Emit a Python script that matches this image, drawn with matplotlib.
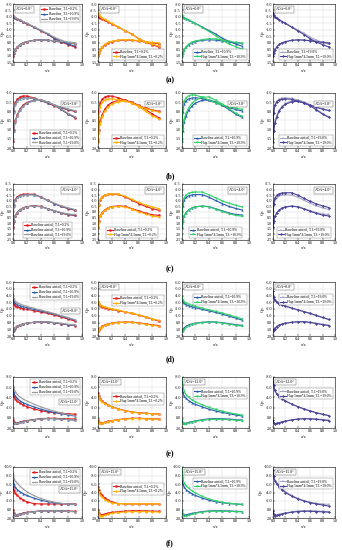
import matplotlib
matplotlib.use('Agg')
import matplotlib.pyplot as plt

plt.rcParams['font.family'] = ['Liberation Serif', 'DejaVu Serif']

# chordwise stations (x/c)
X = [0.0, 0.01, 0.03, 0.06, 0.1, 0.15, 0.2, 0.3, 0.4, 0.5, 0.6, 0.7, 0.8, 0.9]

ROW_TAGS = ['(a)', '(b)', '(c)', '(d)', '(e)', '(f)']
AOA_LABELS = ['AOA=0.0°', 'AOA=3.8°', 'AOA=4.0°', 'AOA=8.0°', 'AOA=12.0°', 'AOA=15.0°']
TI_LABELS = ['0.2%', '10.9%', '19.0%']
Y_LIMS = [(1.5, -3.0), (2.0, -1.0), (2.5, -2.5), (2.0, -6.0), (2.0, -8.0), (2.0, -10.0)]
Y_TICKS = [
    [-3.0, -2.5, -2.0, -1.5, -1.0, -0.5, 0.0, 0.5, 1.0, 1.5],
    [-1.0, -0.5, 0.0, 0.5, 1.0, 1.5, 2.0],
    [-2.5, -2.0, -1.5, -1.0, -0.5, 0.0, 0.5, 1.0, 1.5, 2.0, 2.5],
    [-6.0, -5.0, -4.0, -3.0, -2.0, -1.0, 0.0, 1.0, 2.0],
    [-8.0, -6.0, -4.0, -2.0, 0.0, 2.0],
    [-10.0, -8.0, -6.0, -4.0, -2.0, 0.0, 2.0],
]

# ---- row (a) ----
a_b02_up = [-2.05, -1.98, -1.92, -1.84, -1.74, -1.60, -1.47, -1.20, -0.93, -0.66, -0.30, -0.05, 0.15, 0.35]
a_b02_lo = [1.0, 0.8, 0.55, 0.35, 0.15, 0.0, -0.08, -0.17, -0.21, -0.19, -0.12, -0.05, 0.02, 0.08]
a_b109_up = [-2.1, -2.0, -1.93, -1.85, -1.75, -1.62, -1.49, -1.22, -0.95, -0.68, -0.35, -0.1, 0.1, 0.28]
a_b109_lo = [1.0, 0.82, 0.55, 0.35, 0.15, 0.0, -0.08, -0.18, -0.22, -0.2, -0.13, -0.06, 0.0, 0.05]
a_b190_up = [-2.15, -2.05, -1.95, -1.87, -1.77, -1.64, -1.51, -1.25, -0.98, -0.72, -0.42, -0.2, -0.02, 0.12]
a_b190_lo = [1.0, 0.82, 0.55, 0.35, 0.16, 0.01, -0.07, -0.17, -0.21, -0.2, -0.15, -0.1, -0.05, 0.0]
a_f02_up = [-2.3, -2.2, -2.05, -1.92, -1.8, -1.65, -1.5, -1.22, -0.93, -0.64, -0.32, -0.08, 0.1, 0.28]
a_f02_lo = [1.0, 0.8, 0.55, 0.33, 0.13, -0.02, -0.1, -0.2, -0.24, -0.22, -0.15, -0.08, -0.02, 0.02]
a_f109_up = [-2.15, -2.05, -1.95, -1.86, -1.76, -1.62, -1.48, -1.18, -0.88, -0.55, -0.2, 0.1, 0.32, 0.5]
a_f109_lo = [1.0, 0.8, 0.55, 0.32, 0.12, -0.04, -0.13, -0.24, -0.3, -0.3, -0.2, -0.1, -0.02, 0.05]
a_f190_up = [-2.3, -2.15, -2.02, -1.9, -1.78, -1.63, -1.49, -1.2, -0.92, -0.63, -0.3, -0.05, 0.15, 0.33]
a_f190_lo = [1.0, 0.8, 0.55, 0.33, 0.14, 0.0, -0.08, -0.18, -0.22, -0.2, -0.14, -0.08, -0.02, 0.03]

# ---- row (b) ----
b_b02_up = [1.0, 0.0, -0.45, -0.65, -0.78, -0.84, -0.83, -0.74, -0.6, -0.45, -0.3, -0.18, -0.08, 0.0]
b_b02_lo = [1.6, 1.0, 0.55, 0.2, -0.12, -0.35, -0.48, -0.6, -0.6, -0.5, -0.32, -0.1, 0.15, 0.35]
b_b109_up = [1.0, 0.05, -0.38, -0.58, -0.68, -0.73, -0.74, -0.7, -0.6, -0.47, -0.33, -0.2, -0.1, -0.02]
b_b109_lo = [1.6, 1.05, 0.6, 0.25, -0.08, -0.3, -0.45, -0.6, -0.62, -0.52, -0.33, -0.1, 0.15, 0.33]
b_b190_up = [1.0, 0.05, -0.35, -0.55, -0.66, -0.72, -0.74, -0.71, -0.62, -0.5, -0.36, -0.23, -0.12, -0.04]
b_b190_lo = [1.6, 1.05, 0.6, 0.25, -0.06, -0.28, -0.43, -0.58, -0.61, -0.52, -0.34, -0.12, 0.12, 0.3]
b_f02_up = [1.2, 0.3, -0.25, -0.5, -0.62, -0.68, -0.68, -0.64, -0.57, -0.45, -0.3, -0.15, -0.05, 0.05]
b_f02_lo = [1.7, 1.2, 0.7, 0.3, -0.02, -0.25, -0.38, -0.52, -0.55, -0.45, -0.25, 0.0, 0.25, 0.42]
b_f109_up = [1.0, -0.1, -0.55, -0.75, -0.85, -0.9, -0.88, -0.78, -0.62, -0.47, -0.35, -0.25, -0.17, -0.1]
b_f109_lo = [1.6, 0.95, 0.45, 0.1, -0.2, -0.45, -0.6, -0.78, -0.78, -0.62, -0.4, -0.15, 0.1, 0.28]
b_f190_up = [1.1, 0.1, -0.32, -0.52, -0.62, -0.67, -0.68, -0.65, -0.56, -0.45, -0.33, -0.22, -0.12, -0.05]
b_f190_lo = [1.65, 1.1, 0.65, 0.3, -0.02, -0.25, -0.38, -0.52, -0.55, -0.46, -0.3, -0.08, 0.15, 0.33]

# ---- row (c) ----
c_b02_up = [1.0, -0.6, -1.1, -1.35, -1.5, -1.58, -1.6, -1.58, -1.35, -1.05, -0.75, -0.5, -0.3, -0.15]
c_b02_lo = [1.3, 0.8, 0.35, 0.05, -0.2, -0.38, -0.48, -0.55, -0.5, -0.3, -0.1, 0.1, 0.25, 0.3]
c_b109_up = [1.0, -0.55, -1.05, -1.3, -1.45, -1.53, -1.56, -1.55, -1.33, -1.03, -0.75, -0.5, -0.32, -0.18]
c_b109_lo = [1.3, 0.8, 0.35, 0.05, -0.2, -0.37, -0.47, -0.53, -0.48, -0.3, -0.1, 0.08, 0.22, 0.27]
c_b190_up = [1.0, -0.5, -1.0, -1.25, -1.42, -1.5, -1.53, -1.52, -1.32, -1.05, -0.78, -0.55, -0.37, -0.22]
c_b190_lo = [1.3, 0.8, 0.38, 0.08, -0.18, -0.35, -0.45, -0.52, -0.47, -0.3, -0.12, 0.05, 0.18, 0.22]
c_f02_up = [1.0, -0.6, -1.12, -1.37, -1.52, -1.6, -1.62, -1.6, -1.4, -1.12, -0.85, -0.62, -0.45, -0.3]
c_f02_lo = [1.35, 0.85, 0.4, 0.08, -0.17, -0.35, -0.45, -0.5, -0.45, -0.25, -0.02, 0.18, 0.35, 0.45]
c_f109_up = [1.0, -0.7, -1.25, -1.52, -1.68, -1.75, -1.78, -1.78, -1.55, -1.27, -1.0, -0.78, -0.6, -0.45]
c_f109_lo = [1.3, 0.8, 0.38, 0.06, -0.18, -0.36, -0.46, -0.52, -0.46, -0.26, -0.05, 0.14, 0.3, 0.38]
c_f190_up = [1.0, -0.7, -1.22, -1.48, -1.63, -1.7, -1.72, -1.72, -1.5, -1.22, -0.95, -0.72, -0.55, -0.4]
c_f190_lo = [1.3, 0.8, 0.38, 0.08, -0.18, -0.35, -0.45, -0.52, -0.46, -0.28, -0.06, 0.12, 0.28, 0.35]

# ---- row (d) ----
d_b02_up = [-3.0, -2.7, -2.5, -2.35, -2.2, -2.05, -1.95, -1.75, -1.55, -1.35, -1.1, -0.8, -0.5, -0.2]
d_b02_lo = [1.2, 1.1, 0.8, 0.55, 0.35, 0.2, 0.1, -0.02, -0.08, -0.05, 0.05, 0.2, 0.35, 0.45]
d_b109_up = [-3.5, -3.1, -2.85, -2.65, -2.48, -2.32, -2.2, -1.95, -1.72, -1.5, -1.25, -0.95, -0.65, -0.35]
d_b109_lo = [1.2, 1.1, 0.8, 0.55, 0.35, 0.2, 0.1, -0.03, -0.1, -0.08, 0.02, 0.17, 0.32, 0.42]
d_b190_up = [-4.2, -3.6, -3.2, -2.95, -2.75, -2.55, -2.4, -2.12, -1.85, -1.6, -1.33, -1.02, -0.72, -0.42]
d_b190_lo = [1.2, 1.1, 0.8, 0.55, 0.35, 0.2, 0.1, -0.03, -0.1, -0.1, 0.0, 0.13, 0.28, 0.38]
d_f02_up = [-3.2, -2.9, -2.65, -2.48, -2.32, -2.17, -2.05, -1.82, -1.6, -1.38, -1.12, -0.85, -0.55, -0.3]
d_f02_lo = [1.3, 1.15, 0.85, 0.6, 0.4, 0.25, 0.14, 0.0, -0.05, -0.02, 0.1, 0.25, 0.42, 0.55]
d_f109_up = [-3.8, -3.4, -3.1, -2.88, -2.7, -2.52, -2.38, -2.12, -1.88, -1.65, -1.4, -1.12, -0.83, -0.55]
d_f109_lo = [1.3, 1.3, 1.0, 0.7, 0.45, 0.28, 0.15, 0.0, -0.08, -0.05, 0.08, 0.25, 0.42, 0.55]
d_f190_up = [-4.6, -3.8, -3.3, -3.0, -2.78, -2.58, -2.42, -2.15, -1.88, -1.62, -1.35, -1.05, -0.75, -0.45]
d_f190_lo = [1.2, 1.15, 0.9, 0.65, 0.42, 0.25, 0.12, -0.02, -0.1, -0.12, -0.02, 0.15, 0.32, 0.45]

# ---- row (e) ----
e_b02_up = [-4.8, -4.2, -3.7, -3.25, -2.85, -2.5, -2.2, -1.75, -1.4, -1.15, -1.0, -0.9, -0.8, -0.7]
e_b02_lo = [0.5, 0.9, 1.05, 1.0, 0.85, 0.7, 0.55, 0.35, 0.2, 0.1, 0.1, 0.15, 0.2, 0.25]
e_b109_up = [-5.8, -5.0, -4.3, -3.8, -3.35, -2.95, -2.65, -2.15, -1.7, -1.35, -1.05, -0.8, -0.55, -0.35]
e_b109_lo = [0.6, 1.0, 1.1, 1.05, 0.9, 0.75, 0.6, 0.38, 0.22, 0.15, 0.18, 0.25, 0.35, 0.45]
e_b190_up = [-7.5, -6.0, -5.2, -4.6, -4.1, -3.65, -3.3, -2.7, -2.15, -1.7, -1.3, -0.95, -0.65, -0.4]
e_b190_lo = [0.6, 1.0, 1.15, 1.1, 0.95, 0.8, 0.65, 0.42, 0.25, 0.15, 0.17, 0.25, 0.35, 0.45]
e_f02_up = [-4.4, -4.0, -3.55, -3.15, -2.8, -2.45, -2.15, -1.7, -1.35, -1.1, -0.95, -0.85, -0.78, -0.72]
e_f02_lo = [0.6, 1.0, 1.1, 1.05, 0.9, 0.75, 0.6, 0.4, 0.25, 0.15, 0.15, 0.2, 0.25, 0.3]
e_f109_up = [-8.0, -6.5, -5.3, -4.55, -4.0, -3.5, -3.15, -2.55, -2.05, -1.65, -1.3, -1.0, -0.75, -0.5]
e_f109_lo = [0.4, 1.0, 1.2, 1.15, 1.0, 0.85, 0.7, 0.5, 0.35, 0.28, 0.3, 0.38, 0.45, 0.55]
e_f190_up = [-8.2, -6.5, -5.4, -4.7, -4.15, -3.7, -3.3, -2.7, -2.2, -1.75, -1.35, -1.0, -0.7, -0.45]
e_f190_lo = [0.5, 1.0, 1.15, 1.1, 0.95, 0.8, 0.65, 0.42, 0.25, 0.18, 0.2, 0.3, 0.42, 0.55]

# ---- row (f) ----
f_b02_up = [-5.4, -4.6, -3.9, -3.3, -2.75, -2.2, -1.8, -1.4, -1.3, -1.3, -1.3, -1.3, -1.3, -1.3]
f_b02_lo = [0.2, 0.9, 1.2, 1.2, 1.05, 0.85, 0.7, 0.5, 0.38, 0.3, 0.3, 0.33, 0.38, 0.42]
f_b109_up = [-6.9, -6.0, -5.3, -4.7, -4.2, -3.7, -3.3, -2.7, -2.2, -1.85, -1.6, -1.4, -1.3, -1.2]
f_b109_lo = [0.3, 1.0, 1.3, 1.25, 1.1, 0.9, 0.75, 0.5, 0.35, 0.28, 0.3, 0.35, 0.42, 0.5]
f_b190_up = [-8.5, -7.5, -6.8, -6.2, -5.5, -4.8, -4.2, -3.3, -2.6, -2.1, -1.7, -1.45, -1.3, -1.2]
f_b190_lo = [0.3, 1.0, 1.3, 1.28, 1.15, 0.95, 0.8, 0.55, 0.38, 0.3, 0.3, 0.35, 0.45, 0.55]
f_f02_up = [-5.0, -4.2, -3.5, -2.9, -2.35, -1.9, -1.6, -1.4, -1.35, -1.35, -1.35, -1.35, -1.35, -1.35]
f_f02_lo = [0.3, 1.1, 1.5, 1.5, 1.3, 1.1, 0.92, 0.7, 0.58, 0.5, 0.5, 0.5, 0.55, 0.6]
f_f109_up = [-10.0, -7.5, -6.3, -5.6, -5.0, -4.4, -3.9, -3.1, -2.5, -2.05, -1.7, -1.45, -1.3, -1.2]
f_f109_lo = [0.3, 1.1, 1.6, 1.55, 1.35, 1.1, 0.9, 0.62, 0.45, 0.38, 0.4, 0.45, 0.5, 0.55]
f_f190_up = [-9.4, -7.8, -6.8, -6.0, -5.3, -4.6, -4.0, -3.15, -2.5, -2.0, -1.6, -1.3, -1.05, -0.8]
f_f190_lo = [0.3, 1.1, 1.45, 1.4, 1.25, 1.05, 0.9, 0.65, 0.48, 0.4, 0.42, 0.48, 0.55, 0.62]

ROWS = [
    ((a_b02_up, a_b02_lo), (a_b109_up, a_b109_lo), (a_b190_up, a_b190_lo),
     (a_f02_up, a_f02_lo), (a_f109_up, a_f109_lo), (a_f190_up, a_f190_lo)),
    ((b_b02_up, b_b02_lo), (b_b109_up, b_b109_lo), (b_b190_up, b_b190_lo),
     (b_f02_up, b_f02_lo), (b_f109_up, b_f109_lo), (b_f190_up, b_f190_lo)),
    ((c_b02_up, c_b02_lo), (c_b109_up, c_b109_lo), (c_b190_up, c_b190_lo),
     (c_f02_up, c_f02_lo), (c_f109_up, c_f109_lo), (c_f190_up, c_f190_lo)),
    ((d_b02_up, d_b02_lo), (d_b109_up, d_b109_lo), (d_b190_up, d_b190_lo),
     (d_f02_up, d_f02_lo), (d_f109_up, d_f109_lo), (d_f190_up, d_f190_lo)),
    ((e_b02_up, e_b02_lo), (e_b109_up, e_b109_lo), (e_b190_up, e_b190_lo),
     (e_f02_up, e_f02_lo), (e_f109_up, e_f109_lo), (e_f190_up, e_f190_lo)),
    ((f_b02_up, f_b02_lo), (f_b109_up, f_b109_lo), (f_b190_up, f_b190_lo),
     (f_f02_up, f_f02_lo), (f_f109_up, f_f109_lo), (f_f190_up, f_f190_lo)),
]

# styles: baseline 0.2 / 10.9 / 19.0 ; flap 0.2 / 10.9 / 19.0
BASE_STYLE = [('#e31a1c', 's'), ('#2a5caa', '^'), ('#9b9b9b', 'x')]
FLAP_STYLE = [('#ffb300', 'o'), ('#2fd06a', 'v'), ('#4b4494', 'D')]
BASE_STYLE_C4 = ('#a7a7c4', '+')

FIG_W, FIG_H = 342, 550
ROW_PX = [(4, 62), (93, 148), (184, 240), (282, 336), (377, 428), (467, 518)]
COL_PX = [(13, 82), (98, 166), (182, 249), (273, 335)]
TAG_Y = [80, 176, 269, 359, 454, 543]

# AOA box / legend placement per row, per column
AOA_POS = [
    [(0.05, 0.94, 'left')] * 4,
    [(0.95, 0.84, 'right')] * 4,
    [(0.95, 0.92, 'right')] * 4,
    [(0.95, 0.5, 'right')] + [(0.05, 0.94, 'left')] * 3,
    [(0.95, 0.55, 'right')] + [(0.05, 0.94, 'left')] * 3,
    [(0.95, 0.6, 'right')] + [(0.05, 0.94, 'left')] * 3,
]
LEG_LOC = [
    [('upper right', (1, 1)), ('lower right', (1, 0)), ('lower right', (1, 0)), ('lower right', (1, 0))],
    [('lower right', (1, 0))] * 4,
    [('lower center', (0.5, 0))] * 4,
    [('upper right', (1, 1)), ('upper right', (1, 0.8)), ('upper right', (1, 0.82)), ('upper right', (1, 0.82))],
    [('upper right', (1, 1)), ('upper right', (1, 0.72)), ('upper right', (1, 0.82)), ('upper right', (1, 0.82))],
    [('upper right', (1, 1)), ('upper right', (1, 0.72)), ('upper right', (1, 0.82)), ('upper right', (1, 0.82))],
]

fig = plt.figure(figsize=(FIG_W / 100, FIG_H / 100), dpi=100)
FS = 3.0


def style_axes(ax, r):
    ax.set_xlim(0.0, 1.0)
    ax.set_ylim(*Y_LIMS[r])
    ax.set_xticks([0.0, 0.2, 0.4, 0.6, 0.8, 1.0])
    ax.set_yticks(Y_TICKS[r])
    ax.set_xticklabels(['%.1f' % v for v in [0.0, 0.2, 0.4, 0.6, 0.8, 1.0]])
    ax.set_yticklabels(['%.1f' % v for v in Y_TICKS[r]])
    ax.tick_params(labelsize=FS, length=1.2, width=0.3, pad=0.8, direction='in')
    ax.grid(True, color='#d8d8d8', linewidth=0.3)
    for sp in ax.spines.values():
        sp.set_linewidth(0.4)
    ax.set_xlabel('x/c', fontsize=FS + 0.4, labelpad=1)
    ax.set_ylabel('Cp', fontsize=FS + 0.4, labelpad=0.5)


def draw_series(ax, data, color, marker, label):
    up, lo = data
    ax.plot(X, up, color=color, marker=marker, markersize=1.2, linewidth=0.8,
            markeredgewidth=0.3, label=label)
    ax.plot(X, lo, color=color, marker=marker, markersize=1.2, linewidth=0.8,
            markeredgewidth=0.3)


for r in range(6):
    top, bot = ROW_PX[r]
    series = ROWS[r]
    base_name = 'Baseline' if r == 0 else 'Baseline airfoil'
    flap_name = 'Flap 5mm*4.5mm'
    for c in range(4):
        left, right = COL_PX[c]
        ax = fig.add_axes([left / FIG_W, 1 - bot / FIG_H,
                           (right - left) / FIG_W, (bot - top) / FIG_H])
        style_axes(ax, r)
        if c == 0:
            for i in range(3):
                col, mk = BASE_STYLE[i]
                draw_series(ax, series[i], col, mk,
                            '%s, T.I.=%s' % (base_name, TI_LABELS[i]))
        else:
            i = c - 1
            col, mk = BASE_STYLE[i] if c < 3 else BASE_STYLE_C4
            draw_series(ax, series[i], col, mk,
                        '%s, T.I.=%s' % (base_name, TI_LABELS[i]))
            fcol, fmk = FLAP_STYLE[i]
            draw_series(ax, series[3 + i], fcol, fmk,
                        '%s, T.I.=%s' % (flap_name, TI_LABELS[i]))
        loc, anchor = LEG_LOC[r][c]
        leg = ax.legend(loc=loc, bbox_to_anchor=anchor, fontsize=FS - 0.4,
                        frameon=True, fancybox=False, edgecolor='#555555',
                        handlelength=1.6, borderpad=0.3, labelspacing=0.2,
                        handletextpad=0.4, borderaxespad=0.6)
        leg.get_frame().set_linewidth(0.3)
        ax_x, ax_y, ha = AOA_POS[r][c]
        ax.text(ax_x, ax_y, AOA_LABELS[r], transform=ax.transAxes, ha=ha, va='top',
                fontsize=FS - 0.2, bbox=dict(boxstyle='square,pad=0.3', fc='white',
                                             ec='#555555', lw=0.3))
    fig.text(170 / FIG_W, 1 - TAG_Y[r] / FIG_H, ROW_TAGS[r], ha='center',
             va='center', fontsize=5.5, fontweight='bold')

fig.savefig('out.png', dpi=100)
